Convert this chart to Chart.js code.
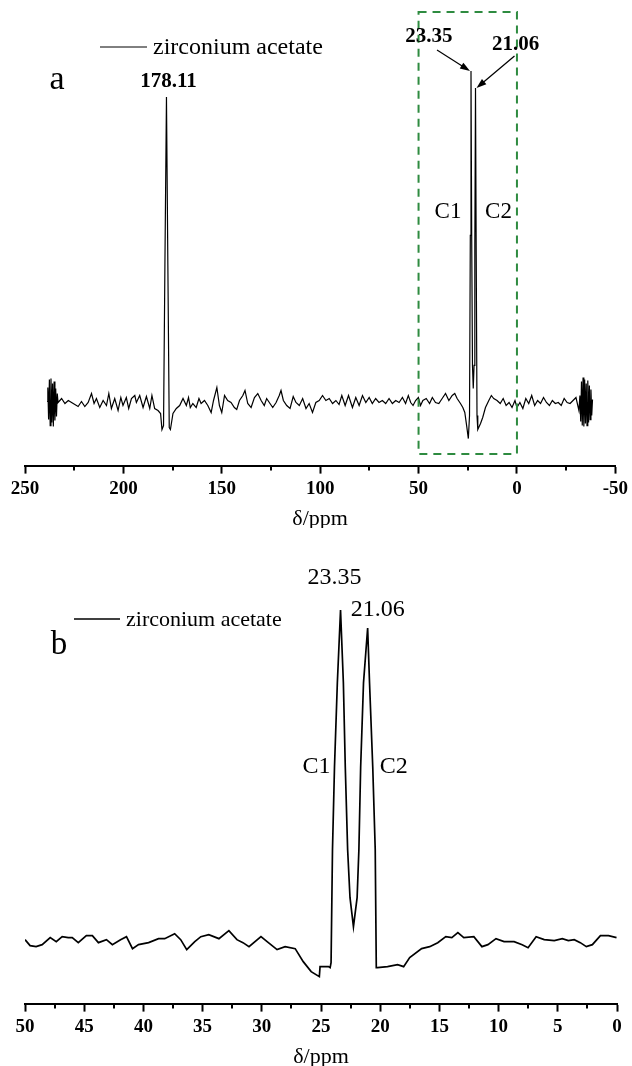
<!DOCTYPE html>
<html>
<head>
<meta charset="utf-8">
<script src="https://cdn.jsdelivr.net/npm/chart.js@4.4.0/dist/chart.umd.min.js"></script>
<style>
  html, body { margin: 0; padding: 0; background: #fff; }
  #wrap { position: relative; width: 632px; height: 1066px; }
  canvas { position: absolute; left: 0; }
  #specA { top: 0; }
  #specB { top: 528px; }
</style>
</head>
<body>
<div id="wrap">
  <canvas id="specA" width="632" height="528"></canvas>
  <canvas id="specB" width="632" height="538"></canvas>
</div>
<script>
// 13C CP/MAS NMR spectrum of zirconium acetate
const seriesName = 'zirconium acetate';
const axisTitle = 'δ/ppm';

// ---- panel a: full spectrum (chemical shift in ppm, intensity in a.u.) ----
const shiftA = [
  238.8, 238.4, 238.0, 237.6, 237.2, 236.8, 236.4, 236.0, 235.6, 235.2, 234.8, 234.4, 234.0, 233.6,
  233.2, 231.4, 229.7, 228.0, 225.5, 223.0, 221.3, 219.6, 217.9, 216.2, 214.9, 213.7, 212.0, 210.3,
  208.6, 207.4, 206.1, 204.4, 202.7, 201.3, 200.2, 198.5, 197.3, 195.9, 194.2, 193.4, 191.7, 190.0,
  188.3, 186.6, 185.5, 184.1, 182.4, 181.1, 180.4, 179.6, 178.9, 178.11, 177.4, 176.7, 176.1, 174.8,
  173.1, 171.4, 169.7, 168.0, 166.9, 166.0, 164.7, 163.0, 161.6, 160.5, 158.8, 157.1, 155.4, 154.2,
  152.5, 151.2, 150.0, 148.6, 147.0, 145.3, 143.6, 142.4, 141.0, 139.3, 138.2, 136.8, 135.1, 133.4,
  131.7, 130.0, 128.4, 127.2, 125.5, 124.1, 122.4, 120.8, 119.9, 118.7, 117.0, 115.3, 113.7, 112.3,
  110.6, 108.9, 107.2, 105.6, 103.9, 102.2, 100.5, 98.8, 97.1, 95.4, 93.7, 92.0, 90.4, 89.0,
  87.3, 85.6, 83.6, 81.9, 80.2, 78.5, 76.8, 75.1, 73.5, 71.8, 70.1, 68.4, 66.7, 65.0,
  63.3, 61.6, 59.9, 58.2, 56.6, 55.2, 54.0, 52.8, 51.5, 50.1, 49.0, 47.8, 46.1, 44.4,
  43.0, 41.4, 39.7, 38.0, 36.3, 34.6, 32.9, 31.6, 30.4, 28.7, 27.5, 26.5, 25.5, 24.7,
  24.1, 23.7, 23.35, 23.0, 22.6, 22.2, 21.8, 21.4, 21.06, 20.7, 20.3, 19.9, 18.5, 17.4,
  16.0, 14.3, 13.0, 11.8, 10.1, 8.5, 7.0, 5.5, 4.0, 2.5, 1.0, 0.0, -1.5, -3.0,
  -4.5, -6.0, -7.5, -9.0, -10.5, -12.0, -13.5, -15.0, -16.5, -18.0, -19.5, -21.0, -22.5, -24.0,
  -25.5, -27.0, -28.5, -30.0, -31.5, -32.0, -32.4, -32.8, -33.2, -33.6, -34.0, -34.4, -34.8, -35.2,
  -35.6, -36.0, -36.4, -36.8, -37.2, -37.6, -38.0, -38.4
];
const intensityA = [
  4, 18, -14, 26, -20, 27, -17, 22, -21, 24, -15, 17, -11, 12,
  3, 7, 2, 5, 2, -1, 4, -1, 3, 12, 2, 7, -2, 5,
  0, 12, -3, 7, -5, 8, 0, 8, -3, 7, 10, 3, 10, -2,
  9, -3, 10, -3, -5, -8, -24, -20, 140, 308, 140, -22, -24, -8,
  -3, 0, 7, 0, 8, -2, 2, -2, 7, 2, 5, 0, -7, 5,
  18, 0, -7, 10, 5, 3, -2, -4, 5, 10, 15, 2, -2, 8,
  12, 5, 0, 7, 2, -2, 3, 10, 15, 5, 0, -3, 9, 3,
  0, 7, -3, 2, -7, 3, 5, 10, 5, 7, 2, 5, 1, 10,
  0, 10, -2, 8, 0, 10, 3, 8, 2, 7, 3, 5, 2, 7,
  2, 5, 3, 8, 2, 10, 3, 0, 5, 8, 0, 5, 7, 2,
  8, 3, 2, 7, 12, 5, 10, 12, 7, 2, -2, -7, -21, -33,
  -10, 170, 334, 170, 40, 17, 40, 160, 317, 150, -10, -24, -18, -12,
  -2, 5, 10, 7, 5, 2, 7, 0, 3, -2, 5, -2, 3, -3,
  7, 2, 10, 0, 5, 2, 8, 3, 0, 5, 2, 3, 0, 7,
  3, 2, 5, 8, -5, 10, -16, 24, -20, 28, -21, 26, -18, 22,
  -20, 25, -17, 20, -14, 16, -10, 6
];
const peaksA = [178.11, 23.35, 21.06];
const ticksA = [250, 200, 150, 100, 50, 0, -50];
const minorTicksA = [225, 175, 125, 75, 25, -25];
const windowA = [50, 0];            // region expanded in panel b

// ---- panel b: expansion of the methyl region ----
const shiftB = [
  50.0, 49.57, 49.06, 48.55, 47.87, 47.36, 46.86, 46.35, 46.01, 45.50, 44.82, 44.31, 43.80, 43.12,
  42.62, 41.93, 41.43, 40.92, 40.41, 39.56, 38.72, 38.20, 37.36, 36.85, 36.34, 35.66, 35.15, 34.48,
  33.62, 32.78, 32.10, 31.59, 31.08, 30.07, 29.55, 28.71, 28.03, 27.18, 26.50, 25.83, 25.14, 25.08,
  24.37, 24.23, 24.15, 24.03, 23.86, 23.62, 23.35, 23.11, 22.95, 22.75, 22.55, 22.26, 21.95, 21.80,
  21.65, 21.41, 21.06, 20.90, 20.63, 20.42, 20.33, 20.23, 19.38, 18.53, 18.02, 17.51, 16.50, 15.82,
  15.14, 14.46, 13.95, 13.44, 12.94, 12.09, 11.41, 10.90, 10.22, 9.54, 8.69, 8.01, 7.51, 6.83,
  6.15, 5.30, 4.62, 4.11, 3.61, 3.10, 2.59, 2.08, 1.40, 0.72, 0.04
];
const intensityB = [
  3, -3, -4, -2, 5, 1, 6, 5, 5, 0, 7, 7, 0, 3,
  -2, 3, 6, -6, -2, 0, 4, 4, 9, 3, -7, 1, 6, 8,
  4, 12, 3, 0, -4, 6, 1, -7, -4, -6, -19, -29, -34, -24,
  -24, -25, -20, 93, 176, 260, 333, 260, 176, 93, 45, 16, 45, 93,
  176, 260, 315, 260, 176, 93, -25, -25, -24, -22, -24, -15, -6, -4,
  0, 6, 5, 10, 5, 6, -4, -2, 4, 1, 1, -2, -5, 6,
  3, 2, 4, 2, 3, 0, -4, -2, 7, 7, 5
];
const peaksB = [23.35, 21.06];
const ticksB = [50, 45, 40, 35, 30, 25, 20, 15, 10, 5, 0];
const minorTicksB = [47.5, 42.5, 37.5, 32.5, 27.5, 22.5, 17.5, 12.5, 7.5, 2.5];
const carbonLabels = ['C1', 'C2'];

const SERIF = "'Liberation Serif', 'DejaVu Serif', serif";

function intensityAt(shifts, values, s) {
  return values[shifts.indexOf(s)];
}

function text(ctx, str, x, y, font, align) {
  ctx.font = font;
  ctx.textAlign = align || 'center';
  ctx.textBaseline = 'middle';
  ctx.fillText(str, x, y);
}

function arrow(ctx, x0, y0, x1, y1) {
  const a = Math.atan2(y1 - y0, x1 - x0);
  const L = 10, W = 3.4;
  ctx.beginPath();
  ctx.moveTo(x0, y0);
  ctx.lineTo(x1 - L * 0.7 * Math.cos(a), y1 - L * 0.7 * Math.sin(a));
  ctx.stroke();
  ctx.beginPath();
  ctx.moveTo(x1, y1);
  ctx.lineTo(x1 - L * Math.cos(a) + W * Math.sin(a), y1 - L * Math.sin(a) - W * Math.cos(a));
  ctx.lineTo(x1 - L * Math.cos(a) - W * Math.sin(a), y1 - L * Math.sin(a) + W * Math.cos(a));
  ctx.closePath();
  ctx.fill();
}

// short unlabeled ticks between the labeled ones
const minorTicks = {
  id: 'minorTicks',
  afterDraw(chart, args, opts) {
    const sx = chart.scales.x;
    const ctx = chart.ctx;
    ctx.save();
    ctx.strokeStyle = '#000';
    ctx.lineWidth = 2;
    (opts.values || []).forEach(v => {
      const px = Math.round(sx.getPixelForValue(v));
      ctx.beginPath();
      ctx.moveTo(px, sx.top);
      ctx.lineTo(px, sx.top + 5);
      ctx.stroke();
    });
    ctx.restore();
  }
};

// legend line + panel letter
function drawLegend(ctx, chart, x0, x1, y, font, lw) {
  ctx.save();
  ctx.strokeStyle = '#000';
  ctx.lineWidth = lw;
  ctx.beginPath();
  ctx.moveTo(x0, y);
  ctx.lineTo(x1, y);
  ctx.stroke();
  ctx.fillStyle = '#000';
  text(ctx, chart.data.datasets[0].label, x1 + 6, y + 1, font, 'left');
  ctx.restore();
}

const annotateA = {
  id: 'annotateA',
  afterDraw(chart) {
    const {ctx, scales: {x, y}} = chart;
    ctx.save();
    ctx.fillStyle = '#000';
    ctx.strokeStyle = '#000';

    // dashed window marking the expanded region
    ctx.save();
    ctx.strokeStyle = '#2e8b40';
    ctx.lineWidth = 2;
    ctx.setLineDash([8, 6]);
    const wx0 = x.getPixelForValue(windowA[0]);
    const wx1 = x.getPixelForValue(windowA[1]);
    ctx.strokeRect(wx0, 12, wx1 - wx0, 442);
    ctx.restore();

    drawLegend(ctx, chart, 100, 147, 47, '24px ' + SERIF, 1);
    text(ctx, 'a', 57, 80, '34px ' + SERIF);

    const base = y.getPixelForValue(0);
    const p = peaksA.map(s => ({
      s, px: x.getPixelForValue(s), py: y.getPixelForValue(intensityAt(shiftA, intensityA, s))
    }));
    const bold = 'bold 21px ' + SERIF;
    // carboxyl peak
    text(ctx, p[0].s.toFixed(2), p[0].px + 2, p[0].py - 15, bold);
    // methyl doublet with arrows
    text(ctx, p[1].s.toFixed(2), p[1].px - 42, p[1].py - 34, bold);
    text(ctx, p[2].s.toFixed(2), p[2].px + 40, p[2].py - 43, bold);
    ctx.lineWidth = 1.2;
    arrow(ctx, p[1].px - 34, p[1].py - 21, p[1].px - 1, p[1].py);
    arrow(ctx, p[2].px + 39, p[2].py - 32, p[2].px + 1, p[2].py);

    const reg = '23px ' + SERIF;
    text(ctx, carbonLabels[0], p[1].px - 23, base - 194, reg);
    text(ctx, carbonLabels[1], p[2].px + 23, base - 194, reg);
    ctx.restore();
  }
};

const annotateB = {
  id: 'annotateB',
  afterDraw(chart) {
    const {ctx, scales: {x, y}} = chart;
    ctx.save();
    ctx.fillStyle = '#000';
    const top = 528;     // canvas offset on the page
    drawLegend(ctx, chart, 74, 120, 619 - top, '22px ' + SERIF, 1.5);
    text(ctx, 'b', 59, 645 - top, '33px ' + SERIF);

    const base = y.getPixelForValue(0);
    const p = peaksB.map(s => ({
      s, px: x.getPixelForValue(s), py: y.getPixelForValue(intensityAt(shiftB, intensityB, s))
    }));
    const reg = '24px ' + SERIF;
    text(ctx, p[0].s.toFixed(2), p[0].px - 6, p[0].py - 32, reg);
    text(ctx, p[1].s.toFixed(2), p[1].px + 10, p[1].py - 18, reg);
    text(ctx, carbonLabels[0], p[0].px - 24, base - 176, reg);
    text(ctx, carbonLabels[1], p[1].px + 26, base - 176, reg);
    ctx.restore();
  }
};

function xAxis(min, max, ticks) {
  return {
    type: 'linear',
    reverse: true,
    min, max,
    afterBuildTicks: s => { s.ticks = ticks.map(v => ({value: v})); },
    border: {display: true, color: '#000', width: 2},
    grid: {display: true, drawOnChartArea: false, drawTicks: true, tickLength: 8, tickWidth: 2, tickColor: '#000', color: '#000'},
    ticks: {
      color: '#000', padding: 4, maxRotation: 0, autoSkip: false,
      font: {family: SERIF, size: 19, weight: 'bold', lineHeight: 1.2},
      callback: v => String(v)
    },
    title: {
      display: true, text: axisTitle, color: '#000',
      font: {family: SERIF, size: 22, lineHeight: 0.8},
      padding: {top: 6, bottom: 0}
    }
  };
}

function makeChart(id, shifts, values, xmin, xmax, ticks, minor, ymin, ymax, padTop, lw, annot) {
  return new Chart(document.getElementById(id), {
    type: 'line',
    data: {
      datasets: [{
        label: seriesName,
        data: shifts.map((s, i) => ({x: s, y: values[i]})),
        borderColor: '#000',
        borderWidth: lw,
        pointRadius: 0,
        tension: 0,
        fill: false
      }]
    },
    options: {
      responsive: false,
      maintainAspectRatio: false,
      animation: false,
      devicePixelRatio: 1,
      layout: {padding: {left: 25, right: 15, top: padTop, bottom: 0}},
      scales: {
        x: xAxis(xmin, xmax, ticks),
        y: {display: false, min: ymin, max: ymax}
      },
      plugins: {
        legend: {display: false},
        tooltip: {enabled: false},
        minorTicks: {values: minor}
      }
    },
    plugins: [minorTicks, annot]
  });
}

makeChart('specA', shiftA, intensityA, -50, 250, ticksA, minorTicksA, -60, 345, 60, 1.2, annotateA);
makeChart('specB', shiftB, intensityB, 0, 50, ticksB, minorTicksB, -61, 354, 61, 1.7, annotateB);
</script>
</body>
</html>
